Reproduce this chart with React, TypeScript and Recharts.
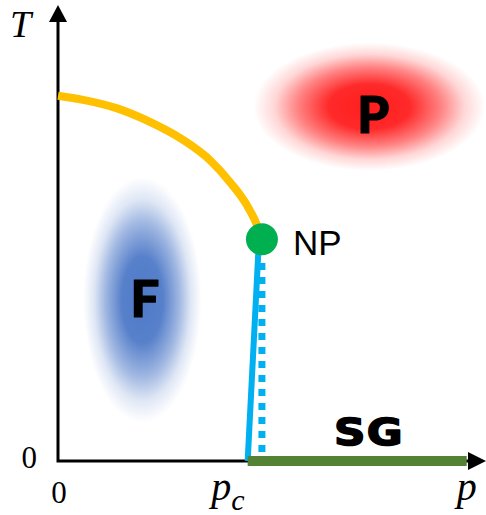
import { ComposedChart, Line, Scatter, XAxis, YAxis, ReferenceArea } from "recharts";

const W = 486;
const H = 515;

// axis ranges (p on x, T on y)
const P_MAX = 1.02;
const T_MAX = 1.025;
const P_ARROW = 1.02;
const T_ARROW = 1.014;

// F/P boundary (orange)
const FP_P = [0, 0.06, 0.141, 0.219, 0.298, 0.362, 0.41, 0.45, 0.474, 0.486];
const FP_T = [0.812, 0.803, 0.784, 0.754, 0.714, 0.669, 0.62, 0.569, 0.525, 0.493];

// Nishimori point
const NP_P = 0.486;
const NP_T = 0.493;

// F/SG boundary (solid blue) and the vertical dotted one
const FSG_P = [0.479, 0.452];
const FSG_T = [0.493, 0];
const DOT_P = [0.486, 0.486];
const DOT_T = [0.02, 0.4535];

// SG segment on T = 0
const PC = 0.452;
const SG_P = [PC, 0.974];
const SG_T = [0, 0];

const P_TICKS = [0, PC, 0.974];
const P_TICK_LABELS = ["0", "p_c", "p"];
const T_TICKS = [0];
const T_TICK_LABELS = ["0"];

// soft regions: [p1, p2, T1, T2]
const PARA_BOX = [0.466, 1.018, 0.645, 0.93];
const FERRO_BOX = [0.06, 0.342, 0.085, 0.632];

const REGION_NAMES = ["P", "F", "SG"];
const REGION_P = [0.751, 0.207, 0.741];
const REGION_T = [0.771, 0.362, 0.066];

const zip = (ps: number[], ts: number[]) => ps.map((p, i) => ({ p, T: ts[i] }));

const fpData = zip(FP_P, FP_T);
const fsgData = zip(FSG_P, FSG_T);
const dotData = zip(DOT_P, DOT_T);
const sgData = zip(SG_P, SG_T);
const axisData = [
  { p: 0, T: T_ARROW - 0.02 },
  { p: 0, T: 0 },
  { p: P_ARROW - 0.03, T: 0 },
];
const arrowData = [
  { p: P_ARROW, T: 0, dir: "x" },
  { p: 0, T: T_ARROW, dir: "y" },
];
const npData = [{ p: NP_P, T: NP_T, name: "NP" }];
const regionData = REGION_NAMES.map((name, i) => ({ name, p: REGION_P[i], T: REGION_T[i] }));

const SERIF = "'Liberation Serif', 'DejaVu Serif', serif";
const SANS = "'Liberation Sans', Arial, sans-serif";
const HEAVY = "Lato, 'Open Sans', 'DejaVu Sans', sans-serif";
const WIDE_HEAVY = "'DejaVu Sans', sans-serif";

function Blob(props: any) {
  const { x, y, width, height, id, color } = props;
  return (
    <g>
      <defs>
        <radialGradient id={id}>
          <stop offset="0%" stopColor={color} stopOpacity={1} />
          <stop offset="35%" stopColor={color} stopOpacity={0.95} />
          <stop offset="62%" stopColor={color} stopOpacity={0.55} />
          <stop offset="82%" stopColor={color} stopOpacity={0.18} />
          <stop offset="100%" stopColor={color} stopOpacity={0} />
        </radialGradient>
      </defs>
      <ellipse cx={x + width / 2} cy={y + height / 2} rx={width / 2} ry={height / 2} fill={`url(#${id})`} />
    </g>
  );
}

function PTick(props: any) {
  const { x, y, payload } = props;
  const label = P_TICK_LABELS[P_TICKS.indexOf(payload.value)];
  if (label === "0") {
    return (
      <text x={x + 1} y={y + 42} textAnchor="middle" fontFamily={SERIF} fontSize={31} fill="#000">
        0
      </text>
    );
  }
  if (label === "p_c") {
    return (
      <text x={x - 3} y={y + 39} textAnchor="end" fontFamily={SERIF} fontStyle="italic" fontSize={40} fill="#000">
        p<tspan fontSize={30} dy={10}>c</tspan>
      </text>
    );
  }
  return (
    <text x={x} y={y + 39} textAnchor="middle" fontFamily={SERIF} fontStyle="italic" fontSize={40} fill="#000">
      {label}
    </text>
  );
}

function TTick(props: any) {
  const { x, y, payload } = props;
  const label = T_TICK_LABELS[T_TICKS.indexOf(payload.value)];
  return (
    <text x={x - 21} y={y + 7} textAnchor="end" fontFamily={SERIF} fontSize={31} fill="#000">
      {label}
    </text>
  );
}

function TLabel(props: any) {
  const vb = props.viewBox || { x: 0, y: 0 };
  return (
    <text x={vb.x + 10} y={vb.y + 37} fontFamily={SERIF} fontStyle="italic" fontSize={38} fill="#000">
      T
    </text>
  );
}

function ArrowHead(props: any) {
  const { cx, cy, payload } = props;
  const pts =
    payload.dir === "x"
      ? `${cx},${cy} ${cx - 18},${cy - 9} ${cx - 18},${cy + 9}`
      : `${cx},${cy} ${cx - 9},${cy + 17} ${cx + 9},${cy + 17}`;
  return <polygon points={pts} fill="#000" />;
}

function NPDot(props: any) {
  const { cx, cy, payload } = props;
  return (
    <g>
      <circle cx={cx} cy={cy} r={16} fill="#00b050" />
      <text x={cx + 31} y={cy + 16} fontFamily={SANS} fontSize={35} fill="#000">
        {payload.name}
      </text>
    </g>
  );
}

function RegionLabel(props: any) {
  const { cx, cy, payload } = props;
  if (payload.name === "SG") {
    // wide, very heavy lettering
    return (
      <text
        transform={`translate(${cx},${cy}) scale(1.15,1)`}
        dy="0.36em"
        textAnchor="middle"
        fontFamily={WIDE_HEAVY}
        fontWeight={700}
        fontSize={38}
        letterSpacing={1}
        fill="#000"
        stroke="#000"
        strokeWidth={1.6}
        strokeLinejoin="round"
      >
        {payload.name}
      </text>
    );
  }
  return (
    <text
      x={cx}
      y={cy}
      dy="0.36em"
      textAnchor="middle"
      fontFamily={HEAVY}
      fontWeight={900}
      fontSize={51}
      fill="#000"
      stroke="#000"
      strokeWidth={1.2}
      strokeLinejoin="round"
    >
      {payload.name}
    </text>
  );
}

export default function App() {
  return (
    <div style={{ position: "absolute", left: 0, top: 0, background: "#fff" }}>
      <ComposedChart width={W} height={H} margin={{ top: 0, right: 0, bottom: 0, left: 0 }}>
        <XAxis
          type="number"
          dataKey="p"
          domain={[0, P_MAX]}
          ticks={P_TICKS}
          interval={0}
          axisLine={false}
          tickLine={false}
          tickSize={0}
          tickMargin={0}
          height={54}
          tick={(p: any) => <PTick {...p} />}
        />
        <YAxis
          type="number"
          dataKey="T"
          domain={[0, T_MAX]}
          ticks={T_TICKS}
          interval={0}
          axisLine={false}
          tickLine={false}
          tickSize={0}
          tickMargin={0}
          width={58}
          tick={(p: any) => <TTick {...p} />}
          label={{ content: (p: any) => <TLabel {...p} /> }}
        />
        <ReferenceArea
          x1={PARA_BOX[0]} x2={PARA_BOX[1]} y1={PARA_BOX[2]} y2={PARA_BOX[3]}
          shape={(p: any) => <Blob {...p} id="paraBlob" color="#ff1e1e" />}
        />
        <ReferenceArea
          x1={FERRO_BOX[0]} x2={FERRO_BOX[1]} y1={FERRO_BOX[2]} y2={FERRO_BOX[3]}
          shape={(p: any) => <Blob {...p} id="ferroBlob" color="#4f7ac8" />}
        />
        {/* axes with arrow heads */}
        <Line data={axisData} dataKey="T" type="linear" stroke="#000" strokeWidth={3} strokeLinejoin="miter" dot={false} activeDot={false} isAnimationActive={false} />
        <Scatter data={arrowData} shape={(p: any) => <ArrowHead {...p} />} isAnimationActive={false} />
        {/* phase boundaries */}
        <Line data={fpData} dataKey="T" type="monotone" stroke="#ffc000" strokeWidth={8} dot={false} activeDot={false} isAnimationActive={false} />
        <Line data={dotData} dataKey="T" type="linear" stroke="#00b0f0" strokeWidth={7} strokeDasharray="7 7" dot={false} activeDot={false} isAnimationActive={false} />
        <Line data={fsgData} dataKey="T" type="linear" stroke="#00b0f0" strokeWidth={6} dot={false} activeDot={false} isAnimationActive={false} />
        <Line data={sgData} dataKey="T" type="linear" stroke="#548235" strokeWidth={10} dot={false} activeDot={false} isAnimationActive={false} />
        <Scatter data={npData} shape={(p: any) => <NPDot {...p} />} isAnimationActive={false} />
        <Scatter data={regionData} shape={(p: any) => <RegionLabel {...p} />} isAnimationActive={false} />
      </ComposedChart>
    </div>
  );
}
